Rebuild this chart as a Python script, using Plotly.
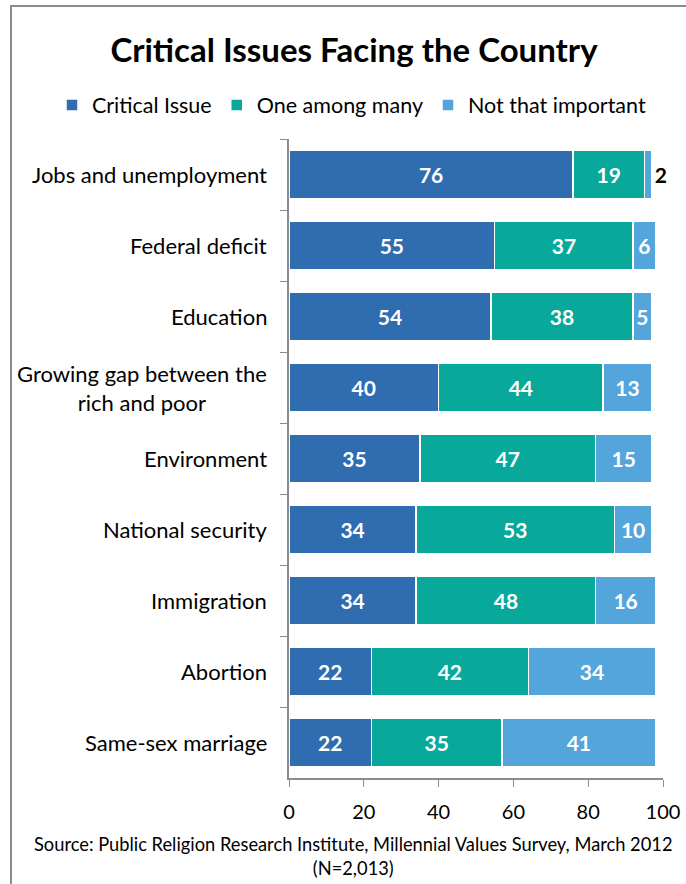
import plotly.graph_objects as go

categories = [
    "Jobs and unemployment",
    "Federal deficit",
    "Education",
    "Growing gap between the<br>rich and poor",
    "Environment",
    "National security",
    "Immigration",
    "Abortion",
    "Same-sex marriage",
]
critical = [76, 55, 54, 40, 35, 34, 34, 22, 22]
one_among_many = [19, 37, 38, 44, 47, 53, 48, 42, 35]
not_important = [2, 6, 5, 13, 15, 10, 16, 34, 41]
x_ticks = [0, 20, 40, 60, 80, 100]

series = [
    ("Critical Issue", critical, "#2F6CB0"),
    ("One among many", one_among_many, "#08A99A"),
    ("Not that important", not_important, "#55A5DD"),
]

FONT = "Lato"
W, H = 686, 884
L, R, T, B = 289, 23, 139, 106
PW, PH = W - L - R, H - T - B


def px_x(p):
    return (p - L) / PW


def px_y(p):
    return (H - B - p) / PH


fig = go.Figure()
for name, vals, color in series:
    # narrow segments carry their label outside the bar
    pos = ["outside" if v < 4 else "inside" for v in vals]
    fig.add_trace(go.Bar(
        y=categories, x=vals, name=name, orientation="h",
        marker=dict(color=color, line=dict(color="white", width=1.5)),
        text=[str(v) for v in vals], textposition=pos,
        insidetextanchor="middle", textangle=0, constraintext="none",
        insidetextfont=dict(family=FONT, size=21, color="white", weight="bold"),
        outsidetextfont=dict(family=FONT, size=21, color="black", weight="bold"),
        cliponaxis=False,
        hoverinfo="skip",
    ))

# category labels, right-aligned to the axis with centred line wrapping
for c in categories:
    fig.add_annotation(
        x=0, xref="paper", y=c, yref="y", text=c, showarrow=False,
        xanchor="right", align="center", xshift=-20,
        font=dict(family=FONT, size=22, color="black"),
    )

# outer frame: an open polyline along the left and top edges
fx0, fx1 = px_x(11), px_x(686)
fy0, fy1 = px_y(884), px_y(6)
fig.add_shape(type="path", xref="paper", yref="paper",
              path=f"M {fx0},{fy0} L {fx0},{fy1} L {fx1},{fy1}",
              line=dict(color="#8C8C8C", width=2),
              fillcolor="rgba(0,0,0,0)")

fig.add_annotation(
    x=px_x(353), xref="paper", y=px_y(856), yref="paper", showarrow=False,
    text="Source: Public Religion Research Institute, Millennial Values Survey, March 2012<br>(N=2,013)",
    align="center", xanchor="center", yanchor="middle",
    font=dict(family=FONT, size=18.3, color="black"),
)

fig.update_layout(
    width=W, height=H,
    margin=dict(l=L, r=R, t=T, b=B, autoexpand=False),
    barmode="stack", bargap=0.32,
    plot_bgcolor="white", paper_bgcolor="white",
    title=dict(text="<b>Critical Issues Facing the Country</b>",
               x=354 / W, xanchor="center", xref="container",
               y=1 - 50 / H, yanchor="middle", yref="container",
               font=dict(family=FONT, size=33, color="black")),
    legend=dict(orientation="h", xref="paper", yref="paper",
                x=px_x(52), xanchor="left",
                y=px_y(105), yanchor="middle",
                font=dict(family=FONT, size=21.5, color="black"),
                traceorder="normal", itemclick=False, itemwidth=30,
                bgcolor="rgba(0,0,0,0)"),
    showlegend=True,
    xaxis=dict(range=[0, 100], tickvals=x_ticks, showgrid=False, zeroline=False,
               showline=True, linecolor="#8C8C8C", linewidth=1.5,
               ticks="outside", ticklen=7, tickcolor="#8C8C8C",
               ticklabelstandoff=8,
               tickfont=dict(family=FONT, size=20, color="black")),
    yaxis=dict(autorange="reversed", showticklabels=False, showgrid=False,
               showline=True, linecolor="#8C8C8C", linewidth=1.5,
               ticks="outside", ticklen=7, tickcolor="#8C8C8C",
               tickson="boundaries"),
)

fig.write_html("out.html")
